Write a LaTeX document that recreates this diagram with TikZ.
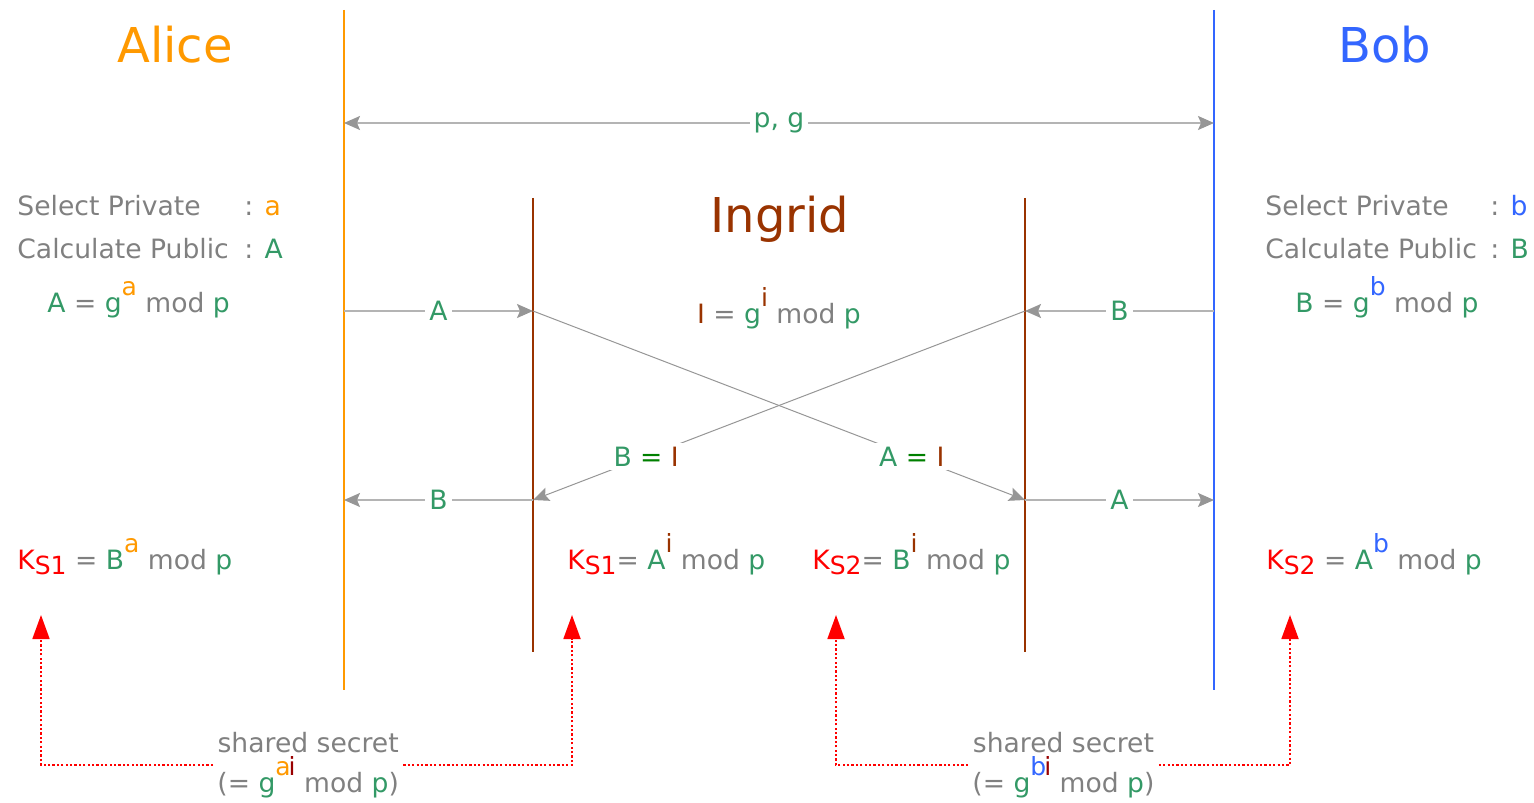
\documentclass[tikz,border=0pt]{standalone}
\usepackage{fontspec}
\setmainfont{DejaVu Sans}
\usepackage{tikz}
\usetikzlibrary{arrows.meta}

\definecolor{alicecol}{RGB}{255,153,0}
\definecolor{bobcol}{RGB}{51,102,255}
\definecolor{ingridcol}{RGB}{153,51,0}
\definecolor{valcol}{RGB}{51,153,102}
\definecolor{eqcol}{RGB}{0,128,0}
\definecolor{txtcol}{RGB}{128,128,128}
\definecolor{keycol}{RGB}{255,0,0}
\definecolor{msgcol}{RGB}{180,180,180}
\definecolor{crosscol}{RGB}{150,150,150}
\definecolor{icol}{RGB}{153,0,0}

\newcommand{\pw}[2]{\raisebox{0.62em}{\color{#1}\fontsize{12.5}{12}\selectfont #2}}
\newcommand{\ks}[1]{\textcolor{keycol}{K\raisebox{-0.2em}{\fontsize{12.5}{12}\selectfont S#1}}}
\newcommand{\gv}[1]{\textcolor{valcol}{#1}}

\begin{document}
\begin{tikzpicture}[
    x=0.5pt, y=-0.5pt,
    every node/.style={font=\fontsize{13.3}{15}\selectfont, text=txtcol, inner sep=1pt},
    title/.style={font=\fontsize{24}{28}\selectfont},
    lifeline/.style={line width=1pt},
    msg/.style={draw=msgcol, line width=0.75pt, -{Stealth[length=8pt, width=7pt, inset=1.5pt, color=crosscol]}},
    cross/.style={draw=crosscol, line width=0.5pt, -{Stealth[length=8pt, width=7pt, inset=1.5pt]}},
    lbl/.style={fill=white, text=valcol, inner sep=2pt},
    secret/.style={align=center, inner sep=2pt},
    secretline/.style={draw=keycol, line width=0.9pt, dash pattern=on 1.1pt off 1.1pt, -{Triangle[length=12pt, width=8.5pt]}}
]
\useasboundingbox (0,0) rectangle (1534,802);

\node (alice) [title, text=alicecol, anchor=base] at (175,63) {Alice};
\node (bob) [title, text=bobcol, anchor=base] at (1385,63) {Bob};
\node (ingrid) [title, text=ingridcol, anchor=base] at (780,233) {Ingrid};

\coordinate (aliceTop) at (344,10);
\coordinate (aliceEnd) at (344,690);
\coordinate (bobTop) at (1214,10);
\coordinate (bobEnd) at (1214,690);
\coordinate (ingLTop) at (533,198);
\coordinate (ingLEnd) at (533,652);
\coordinate (ingRTop) at (1025,198);
\coordinate (ingREnd) at (1025,652);

\draw[lifeline, alicecol] (aliceTop) -- (aliceEnd);
\draw[lifeline, bobcol] (bobTop) -- (bobEnd);
\draw[lifeline, ingridcol] (ingLTop) -- (ingLEnd);
\draw[lifeline, ingridcol] (ingRTop) -- (ingREnd);

\node (privA) [anchor=base west] at (15,215) {Select Private};
\node (privAv) [anchor=base west] at (242,215) {: \textcolor{alicecol}{a}};
\node (pubA) [anchor=base west] at (15,258) {Calculate Public};
\node (pubAv) [anchor=base west] at (242,258) {: \gv{A}};
\node (calcA) [anchor=base west] at (45,312) {\gv{A} = \gv{g}\pw{alicecol}{a} mod \gv{p}};

\node (privB) [anchor=base west] at (1263,215) {Select Private};
\node (privBv) [anchor=base west] at (1488,215) {: \textcolor{bobcol}{b}};
\node (pubB) [anchor=base west] at (1263,258) {Calculate Public};
\node (pubBv) [anchor=base west] at (1488,258) {: \gv{B}};
\node (calcB) [anchor=base west] at (1293,312) {\gv{B} = \gv{g}\pw{bobcol}{b} mod \gv{p}};

\node (calcI) [anchor=base] at (779,323) {\textcolor{ingridcol}{I} = \gv{g}\pw{ingridcol}{i} mod \gv{p}};

\coordinate (pgA) at (344,123);
\coordinate (pgB) at (1214,123);
\coordinate (a1) at (344,311);
\coordinate (i1) at (533,311);
\coordinate (i2) at (1025,311);
\coordinate (b1) at (1214,311);
\coordinate (a2) at (344,500);
\coordinate (i3) at (533,500);
\coordinate (i4) at (1025,500);
\coordinate (b2) at (1214,500);

\draw[msg, {Stealth[length=8pt, width=7pt, inset=1.5pt, color=crosscol]}-{Stealth[length=8pt, width=7pt, inset=1.5pt, color=crosscol]}] (pgA) -- node[lbl] {p, g} (pgB);
\draw[msg] (a1) -- node[lbl] {A} (i1);
\draw[msg] (b1) -- node[lbl] {B} (i2);
\draw[cross] (i1) -- node[lbl, pos=0.77] {\gv{A} \textcolor{eqcol}{=} \textcolor{ingridcol}{I}} (i4);
\draw[cross] (i2) -- node[lbl, pos=0.77] {\gv{B} \textcolor{eqcol}{=} \textcolor{ingridcol}{I}} (i3);
\draw[msg] (i3) -- node[lbl] {B} (a2);
\draw[msg] (i4) -- node[lbl] {A} (b2);

\node (keyA) [anchor=base west] at (15,569) {\ks{1} = \gv{B}\pw{alicecol}{a} mod \gv{p}};
\node (keyIA) [anchor=base west] at (565,569) {\ks{1}= \gv{A}\pw{ingridcol}{i} mod \gv{p}};
\node (keyIB) [anchor=base west] at (810,569) {\ks{2}= \gv{B}\pw{ingridcol}{i} mod \gv{p}};
\node (keyB) [anchor=base west] at (1264,569) {\ks{2} = \gv{A}\pw{bobcol}{b} mod \gv{p}};

\node (secretAI) [secret, anchor=west] at (213,765) {shared secret\\[1pt](= \gv{g}\pw{alicecol}{a}\kern-1pt\pw{icol}{i} mod \gv{p})};
\node (secretBI) [secret, anchor=west] at (968,765) {shared secret\\[1pt](= \gv{g}\pw{bobcol}{b}\kern-1pt\pw{icol}{i} mod \gv{p})};

\coordinate (tipA) at (41,615);
\coordinate (tipIA) at (572,615);
\coordinate (tipIB) at (836,615);
\coordinate (tipB) at (1290,615);

\draw[secretline] (secretAI.west) -| (tipA);
\draw[secretline] (secretAI.east) -| (tipIA);
\draw[secretline] (secretBI.west) -| (tipIB);
\draw[secretline] (secretBI.east) -| (tipB);

\end{tikzpicture}
\end{document}
